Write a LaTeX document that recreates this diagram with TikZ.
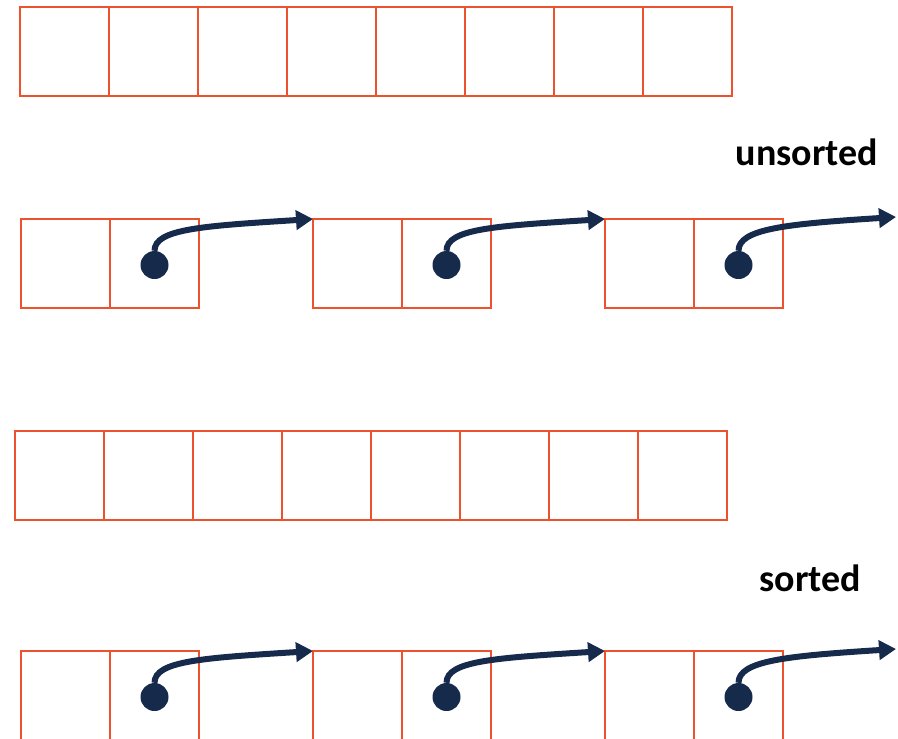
\documentclass[tikz,border=0pt]{standalone}
\usepackage{fontspec}
\setmainfont{Carlito}
\usetikzlibrary{arrows.meta,positioning,calc}
\definecolor{cellred}{RGB}{236,82,46}
\definecolor{ptrnavy}{RGB}{22,42,76}
\tikzset{
  cell/.style  = {draw=cellred,line width=2pt,minimum width=89pt,
                  minimum height=89pt,inner sep=0pt,outer sep=0pt},
  dot/.style   = {circle,fill=ptrnavy,minimum size=28pt,inner sep=0pt},
  ptr/.style   = {draw=ptrnavy,line width=6pt,
                  -{Triangle[length=17pt,width=19pt]}},
  lbl/.style   = {font=\fontsize{38}{44}\selectfont\bfseries,inner sep=0pt},
}

\begin{document}
\begin{tikzpicture}[x=1pt,y=-1pt]
  \useasboundingbox (0,0) rectangle (898,739);
  \clip (0,0) rectangle (898,739);
  % the two arrays
  \node[cell] (top1) at (64.5,51.5) {};
  \node[cell] (bot1) at (59.5,475.5) {};
  \foreach \i [count=\j from 2] in {1,...,7}{
    \node[cell,right=0pt of top\i] (top\j) {};
    \node[cell,right=0pt of bot\i] (bot\j) {};
  }
  % the two linked lists
  \foreach \l/\y in {u/263.5,s/695.5}{
    \node[cell] (\l-d1) at (65.5,\y) {};
    \node[cell,right=0pt of \l-d1] (\l-p1) {};
    \foreach \i [count=\j from 2] in {1,2}{
      \node[cell,right=114pt of \l-p\i] (\l-d\j) {};
      \node[cell,right=0pt of \l-d\j] (\l-p\j) {};
    }
    \foreach \i in {1,2,3}
      \node[dot,yshift=-1.5pt] (\l-dot\i) at (\l-p\i.center) {};
    \foreach \i [count=\j from 2] in {1,2}
      \draw[ptr] (\l-dot\i.north) .. controls +(0,-22) and +(-110,7) .. (\l-d\j.north west);
    \coordinate (\l-end) at ($(\l-p3.north east)+(113,-2)$);
    \draw[ptr] (\l-dot3.north) .. controls +(0,-22) and +(-110,7) .. (\l-end);
  }
  \node[lbl,anchor=base east] (unsorted) at (878,165) {unsorted};
  \node[lbl,anchor=base east] (sorted) at (861,591) {sorted};
\end{tikzpicture}
\end{document}
